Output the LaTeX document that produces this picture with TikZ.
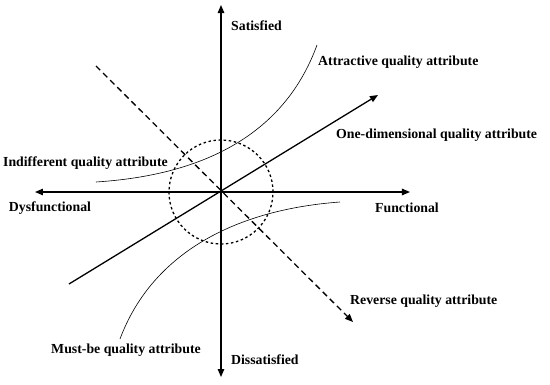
\documentclass[tikz,border=0pt]{standalone}
\usepackage{fontspec}
\setmainfont{Liberation Serif}
\usepackage{tikz}
\usetikzlibrary{arrows.meta,positioning}

\begin{document}
\begin{tikzpicture}[
  x=20pt, y=20pt,
  every node/.style={font=\bfseries\fontsize{13.8}{15}\selectfont, inner sep=0pt},
  axis/.style={line width=1.3pt, -{Triangle[length=8pt,width=6.5pt]}},
  lin/.style={line width=1.3pt, -{Triangle[length=8pt,width=6.5pt]}},
  rev/.style={line width=1.3pt, dash pattern=on 6pt off 4pt, -{Triangle[length=8pt,width=6.5pt]}},
  curve/.style={line width=0.6pt},
  zone/.style={line width=1.3pt, dash pattern=on 2.5pt off 2.6pt},
]
\useasboundingbox (-11.05,-9.6) rectangle (16.45,9.6);

% Axis end points
\coordinate (O) at (0,0);
\coordinate (top) at (0,9.35);
\coordinate (bot) at (0,-9.25);
\coordinate (lft) at (-9.3,0);
\coordinate (rgt) at (9.45,0);

% Line end points
\coordinate (revA) at (-6.25,6.3);
\coordinate (revB) at (6.6,-6.5);
\coordinate (oneA) at (-7.6,-4.6);
\coordinate (oneB) at (7.85,4.85);

% Curve end points
\coordinate (attA) at (-6.25,0.5);
\coordinate (attB) at (4.8,7.35);
\coordinate (musA) at (-5.05,-7.35);
\coordinate (musB) at (5.95,-0.5);

% Labels
\node[anchor=west] (sat) at (0.5,8.3) {Satisfied};
\node[anchor=west] (dis) at (0.5,-8.4) {Dissatisfied};
\node (dys) at (-8.55,-0.8) {Dysfunctional};
\node (fun) at (9.3,-0.8) {Functional};
\node[anchor=west] (att) at (4.85,6.5) {Attractive quality attribute};
\node[anchor=west] (one) at (5.75,2.85) {One-dimensional quality attribute};
\node[anchor=west] (ind) at (-10.9,1.45) {Indifferent quality attribute};
\node (mus) at (-4.75,-7.9) {Must-be quality attribute};
\node[anchor=west] (rev) at (6.45,-5.45) {Reverse quality attribute};

% Axes
\draw[axis] (O) -- (top);
\draw[axis] (O) -- (bot);
\draw[axis] (O) -- (lft);
\draw[axis] (O) -- (rgt);

% Indifference zone
\draw[zone] (O) circle (2.6);

% Quality lines
\draw[rev] (revA) -- (revB);
\draw[lin] (oneA) -- (oneB);

% Quality curves
\draw[curve] (attA) .. controls (0,0.9) and (3.4,3.5) .. (attB);
\draw[curve] (musA) .. controls (-3.5,-3.2) and (0.5,-0.9) .. (musB);

\end{tikzpicture}
\end{document}
